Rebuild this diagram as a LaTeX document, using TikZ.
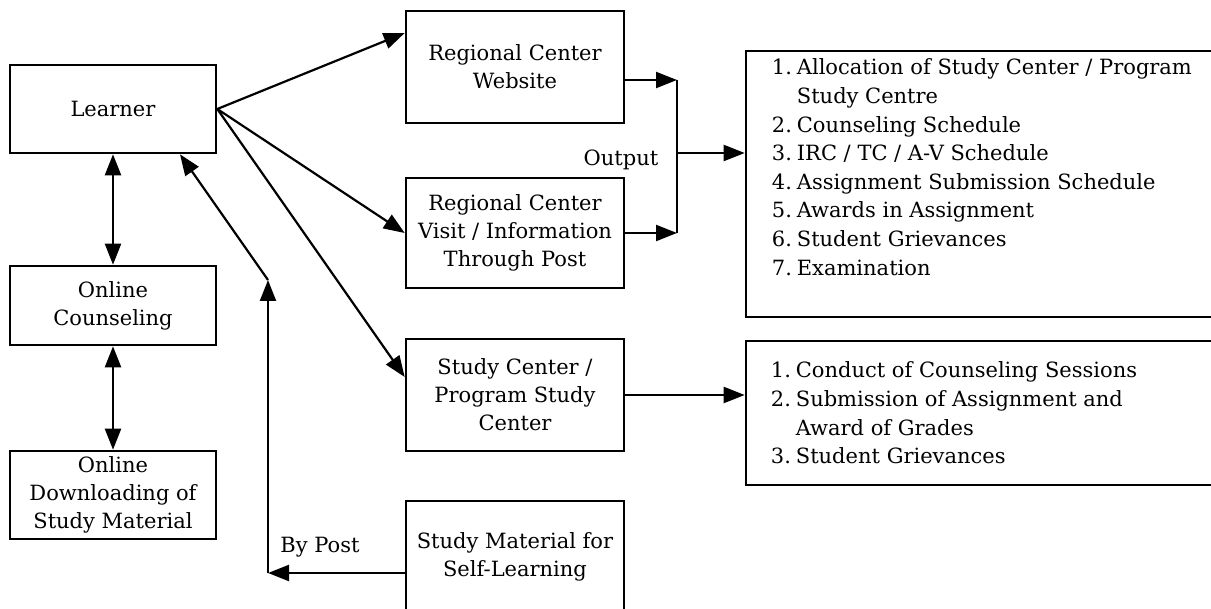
\documentclass[tikz,border=0pt]{standalone}
\usepackage{fontspec}
\setmainfont{DejaVu Serif}
\usetikzlibrary{arrows.meta}
\newcommand{\itm}[1]{\makebox[25pt][l]{#1}}
\newcommand{\ind}{\hspace*{25pt}}
\begin{document}
\begin{tikzpicture}[x=1pt,y=-1pt,
  box/.style={draw, line width=2.6pt, inner sep=0pt, align=center,
    font=\fontsize{21}{28}\selectfont},
  listtext/.style={inner sep=0pt, align=left,
    font=\fontsize{21}{28.6}\selectfont},
  lbl/.style={inner sep=0pt, font=\fontsize{21}{28}\selectfont},
  tip/.style={-{Triangle[length=21pt,width=16pt]}},
  arr/.style={line width=2.2pt, tip},
  darr/.style={line width=2.2pt, {Triangle[length=21pt,width=16pt]}-{Triangle[length=21pt,width=16pt]}},
  ln/.style={line width=2.2pt}]
\useasboundingbox (0,0) rectangle (1211,609);

% left column
\node[box, minimum width=206pt, minimum height=88pt] (learner) at (113,109) {Learner};
\node[box, minimum width=206pt, minimum height=79pt] (oc) at (113,305.5) {Online\\Counseling};
\node[box, minimum width=206pt, minimum height=88pt] (od) at (113,495) {Online\\Downloading of\\Study Material};

% middle column
\node[box, minimum width=218pt, minimum height=112pt] (web) at (515,67) {Regional Center\\Website};
\node[box, minimum width=218pt, minimum height=110pt] (visit) at (515,233) {Regional Center\\Visit / Information\\Through Post};
\node[box, minimum width=218pt, minimum height=112pt] (sc) at (515,395) {Study Center /\\Program Study\\Center};
\node[box, minimum width=218pt, minimum height=112pt] (sm) at (515,557) {Study Material for\\Self-Learning};

% right column
\node[box, minimum width=470pt, minimum height=266pt] (rb1) at (981,184) {};
\node[listtext, anchor=north west] (rb1t) at ([xshift=27pt,yshift=-9pt]rb1.north west)
  {\itm{1.}Allocation of Study Center / Program\\
   \ind Study Centre\\
   \itm{2.}Counseling Schedule\\
   \itm{3.}IRC / TC / A-V Schedule\\
   \itm{4.}Assignment Submission Schedule\\
   \itm{5.}Awards in Assignment\\
   \itm{6.}Student Grievances\\
   \itm{7.}Examination};
\node[box, minimum width=470pt, minimum height=144pt] (rb2) at (981,413) {};
\node[listtext, anchor=west] (rb2t) at ([xshift=26pt]rb2.west)
  {\itm{1.}Conduct of Counseling Sessions\\
   \itm{2.}Submission of Assignment and\\
   \ind Award of Grades\\
   \itm{3.}Student Grievances};

% labels
\node[lbl] (out) at (621,160) {Output};
\node[lbl] (post) at (320,547) {By Post};

% junction points
\coordinate (jx) at (677,153);
\coordinate (pc) at (268,573);
\coordinate (pu) at (268,280);

% connectors
\draw[darr] (learner) -- (oc);
\draw[darr] (oc) -- (od);
\draw[arr] (learner.east) -- ([yshift=34pt]web.west);
\draw[arr] (learner.east) -- (visit.west);
\draw[arr] (learner.east) -- ([yshift=18pt]sc.west);

\draw[arr] ([yshift=-13pt]web.east) -- ([yshift=-13pt]web.east -| jx);
\draw[arr] (visit.east) -- (visit.east -| jx);
\draw[ln] ([yshift=-13pt]web.east -| jx) -- (visit.east -| jx);
\draw[arr] (jx) -- (jx -| rb1.west);

\draw[arr] (sc.east) -- (sc.east -| rb2.west);

\draw[arr] ([yshift=-16pt]sm.west) -- (pc);
\draw[arr] (pc) -- (pu);
\draw[arr] (pu) -- ([xshift=67pt]learner.south);
\end{tikzpicture}
\end{document}
